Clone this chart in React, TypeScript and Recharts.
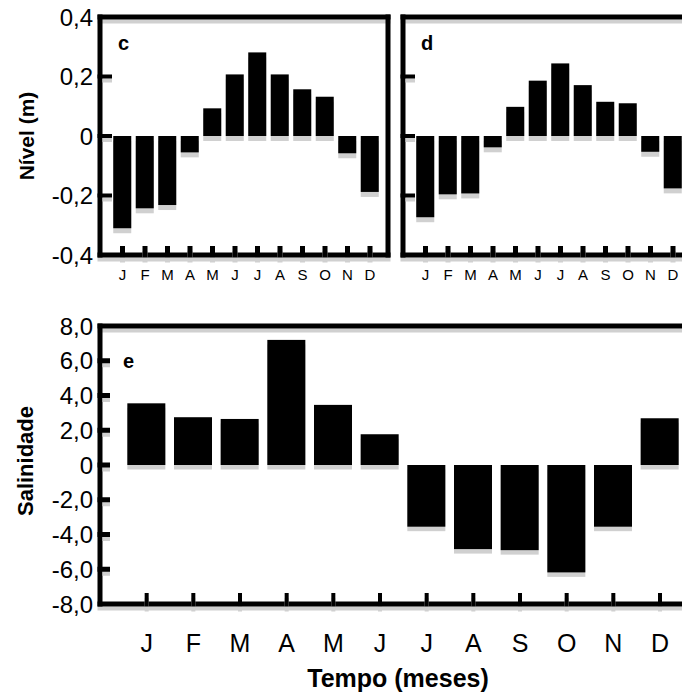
import React from 'react';
import { BarChart, Bar, XAxis, YAxis, ReferenceArea } from 'recharts';

// ---------- data ----------
const months = ['J', 'F', 'M', 'A', 'M', 'J', 'J', 'A', 'S', 'O', 'N', 'D'];
const nivelC = [-0.31, -0.243, -0.232, -0.055, 0.093, 0.207, 0.281, 0.207, 0.157, 0.132, -0.058, -0.188];
const nivelD = [-0.273, -0.196, -0.193, -0.038, 0.098, 0.186, 0.244, 0.171, 0.115, 0.11, -0.053, -0.176];
const salinidadeE = [3.55, 2.75, 2.65, 7.2, 3.46, 1.77, -3.55, -4.84, -4.9, -6.18, -3.55, 2.69];

const nivelTicks = [-0.4, -0.2, 0, 0.2, 0.4];
const nivelTickLabels = ['-0,4', '-0,2', '0', '0,2', '0,4'];
const salTicks = [-8, -6, -4, -2, 0, 2, 4, 6, 8];
const salTickLabels = ['-8,0', '-6,0', '-4,0', '-2,0', '0', '2,0', '4,0', '6,0', '8,0'];

const monthPos = months.map((_, i) => i + 1);
const tableC = months.map((m, i) => ({ pos: monthPos[i], month: m, value: nivelC[i] }));
const tableD = months.map((m, i) => ({ pos: monthPos[i], month: m, value: nivelD[i] }));
const tableE = months.map((m, i) => ({ pos: monthPos[i], month: m, value: salinidadeE[i] }));

// ---------- style ----------
const FONT = '"Liberation Sans", Arial, Helvetica, sans-serif';
const BLACK = '#000000';
const GREY = '#d0d0d0';

const shadowBar = (shadow: number) => (props: any) => {
  const { x, y, width, height } = props;
  if (x == null || y == null) return <g />;
  const top = Math.min(y, y + height);
  const h = Math.abs(height);
  return (
    <g>
      <rect x={x} y={top + shadow} width={width} height={h} fill={GREY} />
      <rect x={x} y={top} width={width} height={h} fill={BLACK} />
    </g>
  );
};

// o.axisX: x of the left axis line (= YAxis width, margin.left is 0)
const yTick = (ticks: number[], labels: string[], o: any) => (props: any) => {
  const { y, payload } = props;
  const ax = o.axisX;
  const i = ticks.indexOf(payload.value);
  const interior = i > 0 && i < ticks.length - 1;
  const hb = o.bw / 2;
  return (
    <g>
      {interior && (
        <g>
          <rect x={ax + hb} y={y - o.markT / 2 + o.shadow} width={o.markLen - hb} height={o.markT} fill={GREY} />
          <rect x={ax - hb} y={y - o.markT / 2} width={o.markLen + hb} height={o.markT} fill={BLACK} />
        </g>
      )}
      {o.showLabels && (
        <text x={ax - o.gap} y={y} dy="0.36em" textAnchor="end" fontSize={o.fontSize} fontFamily={FONT} fill={BLACK}>
          {labels[i]}
        </text>
      )}
    </g>
  );
};

// o.axisY: y of the bottom axis line
const xTick = (o: any) => (props: any) => {
  const { x, payload } = props;
  const ay = o.axisY;
  const i = monthPos.indexOf(payload.value);
  const hb = o.bw / 2;
  return (
    <g>
      <rect x={x - o.markW / 2} y={ay - o.markH + o.shadow} width={o.markW} height={o.markH + hb} fill={GREY} />
      <rect x={x - o.markW / 2} y={ay - o.markH} width={o.markW} height={o.markH + hb} fill={BLACK} />
      <text x={x} y={ay + o.labelDy} textAnchor="middle" fontSize={o.fontSize} fontFamily={FONT} fill={BLACK}>
        {months[i]}
      </text>
    </g>
  );
};

const frame = (letter: string, o: any) => (props: any) => {
  const { x, y, width, height } = props;
  const hb = o.bw / 2;
  return (
    <g>
      <rect x={x - hb} y={y + hb} width={width + o.bw} height={o.shadow} fill={GREY} />
      <rect x={x - hb} y={y + height + hb} width={width + o.bw} height={o.shadow} fill={GREY} />
      <rect x={x - hb} y={y - hb} width={width + o.bw} height={o.bw} fill={BLACK} />
      <rect x={x - hb} y={y + height - hb} width={width + o.bw} height={o.bw} fill={BLACK} />
      <rect x={x - hb} y={y - hb} width={o.bw} height={height + o.bw} fill={BLACK} />
      <rect x={x + width - hb} y={y - hb} width={o.bw} height={height + o.bw} fill={BLACK} />
      <text x={x + o.lx} y={y + o.ly} fontSize={o.lfs} fontWeight="bold" fontFamily={FONT} fill={BLACK}>
        {letter}
      </text>
    </g>
  );
};

const yTitle = (text: string, cx: number, dyc: number, fs: number) => (props: any) => {
  const vb = props.viewBox || {};
  const X = (vb.x || 0) + cx;
  const Y = (vb.y || 0) + (vb.height || 0) / 2 + dyc;
  return (
    <text x={X} y={Y} transform={`rotate(-90 ${X} ${Y})`} textAnchor="middle" dominantBaseline="central"
      fontSize={fs} fontWeight="bold" fontFamily={FONT} fill={BLACK}>
      {text}
    </text>
  );
};

const xTitle = (text: string, dxc: number, by: number, fs: number) => (props: any) => {
  const vb = props.viewBox || {};
  const X = (vb.x || 0) + (vb.width || 0) / 2 + dxc;
  const Y = (vb.y || 0) + by;
  return (
    <text x={X} y={Y} textAnchor="middle" fontSize={fs} fontWeight="bold" fontFamily={FONT} fill={BLACK}>
      {text}
    </text>
  );
};

// panel geometry (chart-local)
const N_W = 400, N_H = 290, N_TOP = 17, N_RIGHT = 12, N_AXW = 100, N_XH = 35;
const E_W = 712, E_H = 396, E_TOP = 26, E_RIGHT = 10, E_AXW = 100, E_XH = 92;

const smallX = { axisY: N_H - N_XH, bw: 5, markW: 5, markH: 9, shadow: 5, labelDy: 25, fontSize: 15 };
const smallY = { axisX: N_AXW, bw: 5, markT: 4, markLen: 12, shadow: 4, gap: 7, fontSize: 24 };
const bigX = { axisY: E_H - E_XH, bw: 5, markW: 4, markH: 11, shadow: 5, labelDy: 48, fontSize: 25 };
const bigY = { axisX: E_AXW, bw: 5, markT: 5, markLen: 10, shadow: 4, gap: 7, fontSize: 24 };

function NivelPanel({ data, letter, showLabels }: { data: any[]; letter: string; showLabels: boolean }) {
  return (
    <BarChart width={N_W} height={N_H} data={data} margin={{ top: N_TOP, right: N_RIGHT, left: 0, bottom: 0 }}>
      <XAxis type="number" dataKey="pos" domain={[0, 12.8]} ticks={monthPos} interval={0}
        height={N_XH} axisLine={false} tickLine={false} tickSize={0} tickMargin={0} allowDataOverflow
        tick={xTick(smallX)} />
      <YAxis type="number" domain={[-0.4, 0.4]} ticks={nivelTicks} interval={0} width={N_AXW}
        axisLine={false} tickLine={false} tickSize={0} tickMargin={0} allowDataOverflow
        tick={yTick(nivelTicks, nivelTickLabels, { ...smallY, showLabels })}
        label={showLabels ? { content: yTitle('Nível (m)', 26, 0, 21) } : undefined} />
      <ReferenceArea x1={0} x2={12.8} y1={-0.4} y2={0.4} ifOverflow="visible"
        shape={frame(letter, { bw: 5, shadow: 4, lx: 18, ly: 33, lfs: 20 })} />
      <Bar dataKey="value" barSize={18} isAnimationActive={false} shape={shadowBar(5)} />
    </BarChart>
  );
}

export default function App() {
  return (
    <div style={{ position: 'absolute', left: 0, top: 0, width: 682, height: 696, overflow: 'hidden', background: '#ffffff' }}>
      <div style={{ position: 'absolute', left: 0, top: 0 }}>
        <NivelPanel data={tableC} letter="c" showLabels={true} />
      </div>
      <div style={{ position: 'absolute', left: 303, top: 0 }}>
        <NivelPanel data={tableD} letter="d" showLabels={false} />
      </div>
      <div style={{ position: 'absolute', left: 0, top: 300 }}>
        <BarChart width={E_W} height={E_H} data={tableE} margin={{ top: E_TOP, right: E_RIGHT, left: 0, bottom: 0 }}>
          <XAxis type="number" dataKey="pos" domain={[0, 12.9]} ticks={monthPos} interval={0}
            height={E_XH} axisLine={false} tickLine={false} tickSize={0} tickMargin={0} allowDataOverflow
            tick={xTick(bigX)}
            label={{ content: xTitle('Tempo (meses)', -3, 83, 25) }} />
          <YAxis type="number" domain={[-8, 8]} ticks={salTicks} interval={0} width={E_AXW}
            axisLine={false} tickLine={false} tickSize={0} tickMargin={0} allowDataOverflow
            tick={yTick(salTicks, salTickLabels, { ...bigY, showLabels: true })}
            label={{ content: yTitle('Salinidade', 25, -4, 22) }} />
          <ReferenceArea x1={0} x2={12.9} y1={-8} y2={8} ifOverflow="visible"
            shape={frame('e', { bw: 5, shadow: 4, lx: 23, ly: 42, lfs: 20 })} />
          <Bar dataKey="value" barSize={38} isAnimationActive={false} shape={shadowBar(4.5)} />
        </BarChart>
      </div>
    </div>
  );
}
